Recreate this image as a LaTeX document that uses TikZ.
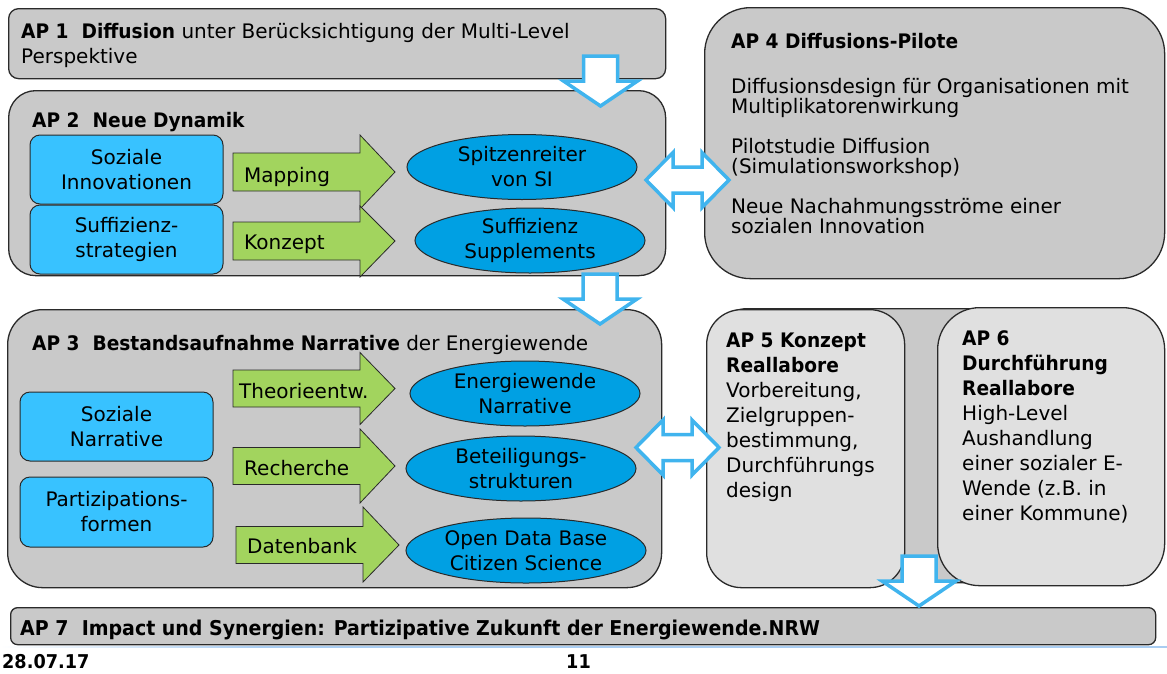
\documentclass[tikz,border=0pt]{standalone}
\usepackage{fontspec}
\setmainfont{DejaVu Sans}[BoldFeatures={FakeStretch=0.93}]
\usetikzlibrary{shapes.geometric}
\definecolor{boxgray}{HTML}{C9C9C9}
\definecolor{paleGray}{HTML}{E0E0E0}
\definecolor{skyblue}{HTML}{38C2FF}
\definecolor{ellblue}{HTML}{00A0E3}
\definecolor{arrgreen}{HTML}{A2D45E}
\definecolor{outblue}{HTML}{40B4EE}
\definecolor{edgecol}{HTML}{2A2A2A}
\definecolor{footline}{HTML}{A9CDF2}
\begin{document}
\begin{tikzpicture}[x=1pt,y=-1pt,
  apbox/.style={draw=edgecol, line width=1.3pt, fill=boxgray, anchor=north west, inner sep=0pt},
  palebox/.style={draw=edgecol, line width=1.3pt, fill=paleGray, anchor=north west, inner sep=0pt},
  bluebox/.style={draw=edgecol, line width=1pt, fill=skyblue, rounded corners=10pt, inner sep=0pt,
     minimum width=193pt, minimum height=69pt, align=center, font=\fontsize{20}{25}\selectfont},
  ellnode/.style={ellipse, draw=edgecol, line width=1pt, fill=ellblue, inner sep=0pt,
     minimum width=230pt, minimum height=65pt, align=center, font=\fontsize{20}{25}\selectfont},
  txt/.style={anchor=base west, inner sep=0pt, font=\fontsize{20}{25}\selectfont},
  greenarr/.style={draw=edgecol, line width=0.8pt, fill=arrgreen, line join=miter},
  blockarr/.style={draw=outblue, line width=3.5pt, fill=white, line join=miter},
  downarr/.pic={\path[blockarr] (-17,0) -- (17,0) -- (17,25) -- (37,25) -- (0,50) -- (-37,25) -- (-17,25) -- cycle;},
  dblarr/.pic={\path[blockarr] (-41.5,0) -- (-14.5,-27.5) -- (-14.5,-13) -- (14.5,-13) -- (14.5,-27.5) -- (41.5,0)
      -- (14.5,27.5) -- (14.5,13) -- (-14.5,13) -- (-14.5,27.5) -- cycle;}
]
\useasboundingbox (0,0) rectangle (1167,673);
\fill[white] (0,0) rectangle (1167,673);

% ---------- AP 1 ----------
\node[apbox, rounded corners=10pt, minimum width=657pt, minimum height=70pt] (ap1) at (8,8) {};
\node[txt] (ap1a) at (21,38) {\textbf{AP 1\ \ Diffusion} unter Berücksichtigung der Multi-Level};
\node[txt] (ap1b) at (21,63) {Perspektive};

% ---------- AP 2 ----------
\node[apbox, rounded corners=27pt, minimum width=657pt, minimum height=185pt] (ap2) at (8,90) {};
\node[txt] (ap2t) at (32,127) {\textbf{AP 2\ \ Neue Dynamik}};
\node[bluebox] (si) at (126.5,169.5) {Soziale\\Innovationen};
\node[bluebox] (sf) at (126.5,239.5) {Suffizienz-\\strategien};
\begin{scope}[shift={(233,172)}]
  \path[greenarr] (0,-19) -- (127,-19) -- (127,-37) -- (162,0) -- (127,37) -- (127,19) -- (0,19) -- cycle;
  \node[txt] (mapping) at (11,10) {Mapping};
\end{scope}
\begin{scope}[shift={(233,241)}]
  \path[greenarr] (0,-19) -- (127,-19) -- (127,-35) -- (162,0) -- (127,36) -- (127,19) -- (0,19) -- cycle;
  \node[txt] (konzept) at (11,8) {Konzept};
\end{scope}
\node[ellnode] (e1) at (522,167) {Spitzenreiter\\von SI};
\node[ellnode] (e2) at (530,240.5) {Suffizienz\\Supplements};

% ---------- AP 4 ----------
\node[apbox, rounded corners=46pt, minimum width=460pt, minimum height=271pt] (ap4) at (704,7) {};
\node[txt] (ap4t) at (731,48) {\textbf{AP 4 Diffusions-Pilote}};
\node[txt] (ap4a) at (731,93) {Diffusionsdesign für Organisationen mit};
\node[txt] (ap4b) at (731,113) {Multiplikatorenwirkung};
\node[txt] (ap4c) at (731,153) {Pilotstudie Diffusion};
\node[txt] (ap4d) at (731,173) {(Simulationsworkshop)};
\node[txt] (ap4e) at (731,213) {Neue Nachahmungsströme einer};
\node[txt] (ap4f) at (731,233) {sozialen Innovation};

% ---------- AP 3 ----------
\node[apbox, rounded corners=35pt, minimum width=654pt, minimum height=278pt] (ap3) at (7,309) {};
\node[txt] (ap3t) at (32,350) {\textbf{AP 3\ \ Bestandsaufnahme Narrative} der Energiewende};
\node[bluebox] (sn) at (116.5,426.5) {Soziale\\Narrative};
\node[bluebox, minimum height=70pt] (pf) at (116.5,512) {Partizipations-\\formen};
\begin{scope}[shift={(233,388.5)}]
  \path[greenarr] (0,-18.5) -- (127,-18.5) -- (127,-36) -- (162,0) -- (127,36) -- (127,18.5) -- (0,18.5) -- cycle;
  \node[txt] (theo) at (6,9.5) {Theorieentw.};
\end{scope}
\begin{scope}[shift={(233,466)}]
  \path[greenarr] (0,-18.5) -- (127,-18.5) -- (127,-37) -- (162,0) -- (127,37) -- (127,18.5) -- (0,18.5) -- cycle;
  \node[txt] (rech) at (11,9) {Recherche};
\end{scope}
\begin{scope}[shift={(236,545)}]
  \path[greenarr] (0,-18.5) -- (127,-18.5) -- (127,-38) -- (163,0) -- (127,37) -- (127,18.5) -- (0,18.5) -- cycle;
  \node[txt] (datb) at (11,8) {Datenbank};
\end{scope}
\node[ellnode] (e3) at (525,393.5) {Energiewende\\Narrative};
\node[ellnode] (e4) at (521,468.5) {Beteiligungs-\\strukturen};
\node[ellnode, minimum width=240pt] (e5) at (526,550.5) {Open Data Base\\Citizen Science};

% ---------- AP 5 / AP 6 ----------
\node[apbox, rounded corners=40pt, minimum width=440pt, minimum height=274pt] (ap56) at (707,308) {};
\node[palebox, rounded corners=35pt, minimum width=198pt, minimum height=278pt] (ap5) at (706,309) {};
\node[palebox, rounded corners=42pt, minimum width=227pt, minimum height=278pt] (ap6) at (937,307) {};
\node[txt] (ap5a) at (726,347) {\textbf{AP 5 Konzept}};
\node[txt] (ap5b) at (726,372) {\textbf{Reallabore}};
\node[txt] (ap5c) at (726,397) {Vorbereitung,};
\node[txt] (ap5d) at (726,422) {Zielgruppen-};
\node[txt] (ap5e) at (726,447) {bestimmung,};
\node[txt] (ap5f) at (726,472) {Durchführungs};
\node[txt] (ap5g) at (726,497) {design};
\node[txt] (ap6a) at (962,345) {\textbf{AP 6}};
\node[txt] (ap6b) at (962,370) {\textbf{Durchführung}};
\node[txt] (ap6c) at (962,395) {\textbf{Reallabore}};
\node[txt] (ap6d) at (962,420) {High-Level};
\node[txt] (ap6e) at (962,445) {Aushandlung};
\node[txt] (ap6f) at (962,470) {einer sozialer E-};
\node[txt] (ap6g) at (962,495) {Wende (z.B. in};
\node[txt] (ap6h) at (962,520) {einer Kommune)};

% ---------- AP 7 ----------
\node[apbox, rounded corners=7pt, minimum width=1145pt, minimum height=37pt] (ap7) at (10,607) {};
\node[txt, font=\fontsize{20.4}{25}\selectfont] (ap7t) at (20,635) {\textbf{AP 7\ \ Impact und Synergien: Partizipative Zukunft der Energiewende.NRW}};

% ---------- block arrows ----------
\pic at (600.5,56) {downarr};
\pic at (600,274) {downarr};
\pic at (919,556) {downarr};
\pic at (687.5,180) {dblarr};
\pic at (677.5,447.5) {dblarr};

% ---------- footer ----------
\shade[left color=white, right color=footline] (0,646.3) rectangle (260,647.8);
\fill[footline] (260,646.3) rectangle (1167,647.8);
\node[txt, font=\fontsize{19}{22}\selectfont\bfseries] (date) at (2,668) {28.07.17};
\node[txt, font=\fontsize{19}{22}\selectfont\bfseries] (page) at (566,668) {11};
\end{tikzpicture}
\end{document}
